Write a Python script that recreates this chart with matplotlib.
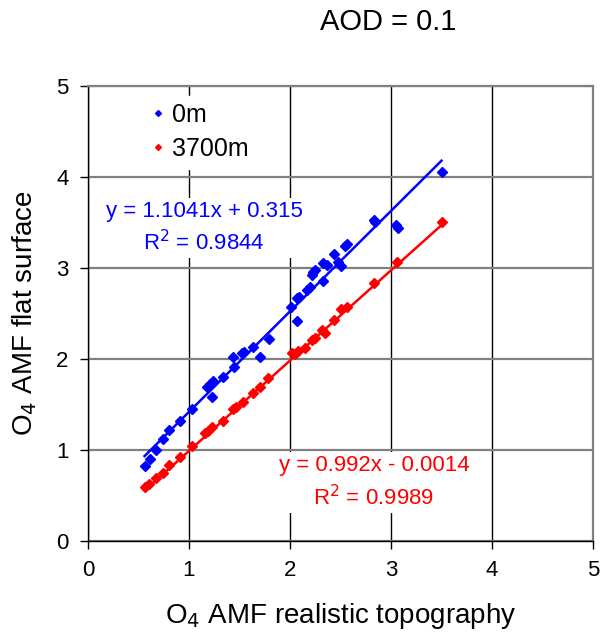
import numpy as np
import matplotlib
matplotlib.use("Agg")
import matplotlib.pyplot as plt

plt.rcParams['font.family'] = ['Liberation Sans', 'DejaVu Sans']

# 0m surface: realistic topography vs flat surface AMF
x_0m = [0.56, 0.61, 0.67, 0.74, 0.80, 0.91, 1.03, 1.18, 1.21, 1.24, 1.23, 1.34,
        1.45, 1.44, 1.52, 1.54, 1.63, 1.70, 1.79, 2.01, 2.07, 2.09, 2.07, 2.17,
        2.20, 2.22, 2.23, 2.25, 2.33, 2.33, 2.37, 2.44, 2.48, 2.50, 2.54, 2.56,
        2.83, 2.84, 3.05, 3.07, 3.50]
y_0m = [0.82, 0.90, 1.00, 1.12, 1.22, 1.32, 1.45, 1.69, 1.73, 1.76, 1.58, 1.80,
        1.91, 2.02, 2.07, 2.08, 2.13, 2.02, 2.22, 2.57, 2.67, 2.68, 2.42, 2.76,
        2.79, 2.92, 2.96, 2.98, 2.86, 3.05, 3.03, 3.15, 3.07, 3.02, 3.24, 3.26,
        3.53, 3.51, 3.47, 3.44, 4.05]

# 3700m surface
x_3700 = [0.56, 0.60, 0.67, 0.74, 0.80, 0.91, 1.03, 1.16, 1.19, 1.23, 1.34, 1.44,
          1.47, 1.53, 1.63, 1.70, 1.78, 2.02, 2.05, 2.08, 2.15, 2.22, 2.25, 2.32,
          2.35, 2.44, 2.50, 2.56, 2.83, 3.06, 3.50]
y_3700 = [0.59, 0.63, 0.69, 0.75, 0.83, 0.92, 1.04, 1.19, 1.21, 1.25, 1.32, 1.45,
          1.47, 1.53, 1.63, 1.69, 1.79, 2.07, 2.05, 2.09, 2.12, 2.21, 2.23, 2.32,
          2.29, 2.43, 2.55, 2.57, 2.84, 3.07, 3.51]

# linear trend coefficients (slope, intercept) as printed on the chart
fit_0m = [1.1041, 0.315]
fit_3700 = [0.992, -0.0014]

BLUE = "#0000ff"
RED = "#ff0000"

fig = plt.figure(figsize=(6.04, 6.33), dpi=100)
ax = fig.add_axes([88 / 604, 92 / 633, 505 / 604, 455 / 633])

ax.plot(x_0m, y_0m, ls="none", marker="D", ms=5, color=BLUE, mec=BLUE, label="0m", zorder=4)
ax.plot(x_3700, y_3700, ls="none", marker="D", ms=5, color=RED, mec=RED, label="3700m", zorder=4)

xs = np.array([min(x_0m), max(x_0m)])
ax.plot(xs, np.polyval(fit_0m, xs), color=BLUE, lw=1.8, zorder=3)
xs = np.array([min(x_3700), max(x_3700)])
ax.plot(xs, np.polyval(fit_3700, xs), color=RED, lw=1.8, zorder=3)

ax.set_xlim(0, 5)
ax.set_ylim(0, 5)
ax.set_xticks(range(6))
ax.set_yticks(range(6))
ax.tick_params(direction="out", length=6, width=1, labelsize=16, pad=8)

ax.set_axisbelow(True)
ax.yaxis.grid(True, color="#808080", lw=1.6)
ax.xaxis.grid(True, color="black", lw=1.0)
for s in ("top", "right"):
    ax.spines[s].set_color("#808080")
    ax.spines[s].set_linewidth(1.6)
for s in ("left", "bottom"):
    ax.spines[s].set_color("black")
    ax.spines[s].set_linewidth(1.0)

ax.set_xlabel("O$_4$ AMF realistic topography", fontsize=20, labelpad=14)
ax.set_ylabel("O$_4$ AMF flat surface", fontsize=20, labelpad=12)
fig.text(388 / 604, 1 - 22 / 633, "AOD = 0.1", fontsize=21, ha="center", va="center")

leg = ax.legend(loc="upper left", bbox_to_anchor=(44 / 505, 1 + 3 / 455), fontsize=18,
                frameon=True, fancybox=False, edgecolor="white", framealpha=1,
                handlelength=0.5, handletextpad=0.3, markerscale=0.6,
                labelspacing=0.4, borderpad=0.3)

ax.text(1.15, 3.44, "y = 1.1041x + 0.315\nR$^2$ = 0.9844", color=BLUE, fontsize=16,
        ha="center", va="center", linespacing=1.4, zorder=2.5,
        bbox=dict(facecolor="white", edgecolor="none", pad=2))
ax.text(2.83, 0.64, "y = 0.992x - 0.0014\nR$^2$ = 0.9989", color=RED, fontsize=16,
        ha="center", va="center", linespacing=1.45, zorder=2.5,
        bbox=dict(facecolor="white", edgecolor="none", pad=2))

fig.savefig("out.png", dpi=100)
